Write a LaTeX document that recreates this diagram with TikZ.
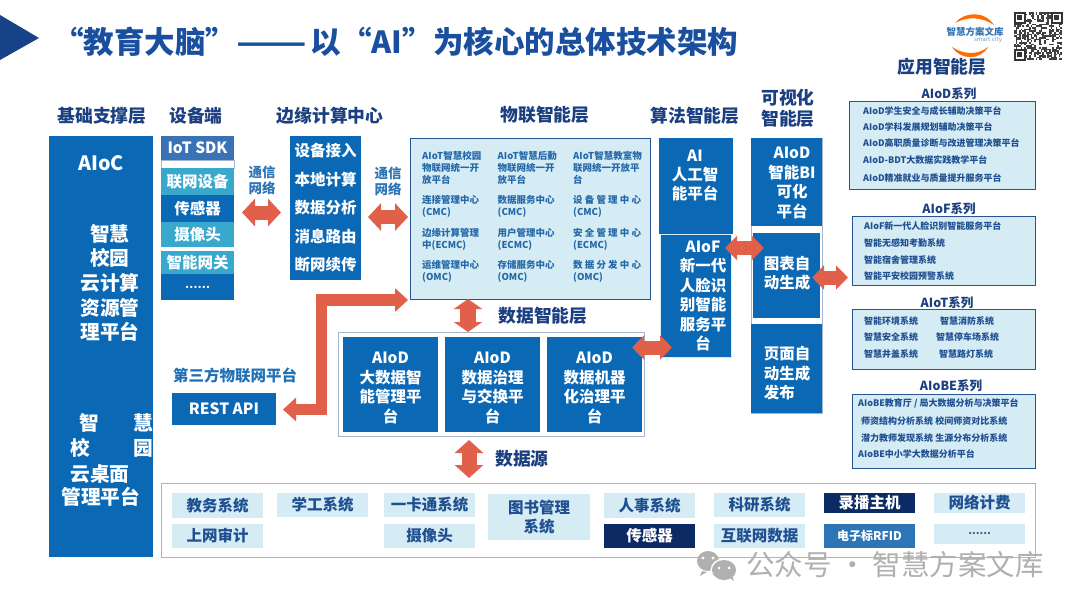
\documentclass[tikz,border=0pt]{standalone}
\usepackage{fontspec}
\setmainfont{Noto Sans CJK SC}
\usetikzlibrary{arrows.meta,calc}
\definecolor{bmain}{HTML}{0B68B5}
\definecolor{bhead}{HTML}{1B3F80}
\definecolor{btitle}{HTML}{1A4F9F}
\definecolor{blight}{HTML}{D6ECF5}
\definecolor{bteal}{HTML}{38A8CC}
\definecolor{bsdk}{HTML}{3A72B6}
\definecolor{bnavy}{HTML}{0C2A63}
\definecolor{bmid}{HTML}{2E75B6}
\definecolor{bedge}{HTML}{2A5490}
\definecolor{bgrayb}{HTML}{A5B5CC}
\definecolor{barrow}{HTML}{E0604A}
\definecolor{biot}{HTML}{2468A8}
\definecolor{bapp}{HTML}{1F4F90}
\definecolor{wmark}{HTML}{B0B0B0}
\tikzset{
  cell/.style={rectangle,inner sep=0pt,outer sep=0pt,align=center,anchor=north west},
  blue15/.style={cell,fill=bmain,text=white,font=\bfseries\fontsize{15.5}{19.4}\selectfont},
  device/.style={cell,text=white,minimum width=73,font=\bfseries\fontsize{15.5}{18}\selectfont},
  head/.style={inner sep=0pt,align=center,text=bhead,font=\bfseries\fontsize{17.8}{21}\selectfont},
  free15/.style={inner sep=0pt,align=center,text=white,font=\bfseries\fontsize{15.5}{19.4}\selectfont},
  free17/.style={inner sep=0pt,align=center,text=white,font=\bfseries\fontsize{19.7}{24.6}\selectfont},
  netlab/.style={inner sep=0pt,align=center,text=bmid,font=\bfseries\fontsize{13.5}{16}\selectfont},
  iottxt/.style={inner sep=0pt,anchor=north west,align=left,text=biot,font=\bfseries\fontsize{9.5}{12}\selectfont},
  frame/.style={cell,draw=bedge,line width=.9pt,fill=blight},
  apptitle/.style={inner sep=0pt,text=bhead,font=\bfseries\fontsize{12.5}{15}\selectfont},
  apptxt/.style={inner sep=0pt,anchor=west,text=bapp,font=\bfseries\fontsize{9}{12}\selectfont},
  src/.style={cell,minimum width=91,font=\bfseries\fontsize{15.5}{19}\selectfont},
  srclight/.style={src,fill=blight,text=bapp},
  srcnavy/.style={src,fill=bnavy,text=white},
  fat/.style n args={3}{draw=barrow,line width=#1pt,{Triangle[length=#2pt,width=#3pt]}-{Triangle[length=#2pt,width=#3pt]}},
}
\begin{document}
\begin{tikzpicture}[x=1pt,y=-1pt]
\useasboundingbox (0,0) rectangle (1080,608);
\fill[white] (0,0) rectangle (1080,608);
% title
\fill[btitle!85!black] (0,15) -- (39,38) -- (0,60) -- cycle;
\node[inner sep=0pt,anchor=west,text=btitle,font=\bfseries\fontsize{30.5}{36}\selectfont] (title) at (53,42) {“教育大脑”\scalebox{1.35}[1]{——}\hspace{4pt}以“AI”为核心的总体技术架构};
% logo
\fill[orange!85!red] (955,23) .. controls (964,12) and (984,10) .. (994,25) .. controls (982,17) and (968,16) .. cycle;
\fill[orange!85!red] (952,47) .. controls (960,60) and (980,61) .. (988,47) .. controls (978,55) and (964,55) .. cycle;
\node[inner sep=0pt,text=bmid,font=\bfseries\fontsize{9.5}{11}\selectfont] (logotext) at (975,32) {智慧方案文库};
\node[inner sep=0pt,text=bmid!70,font=\fontsize{6}{7}\selectfont] (logosub) at (988,40) {smart city};
% QR
\pgfmathsetseed{11}
\foreach \i in {0,...,28}{\foreach \j in {0,...,28}{
  \pgfmathparse{rnd<0.5?1:0}
  \ifnum\pgfmathresult=1 \fill[black!75] (1014+\i*1.66,12+\j*1.66) rectangle ++(1.66,1.66);\fi
}}
\foreach \qx/\qy in {1014/12,1051/12,1014/49}{
  \fill[white] (\qx-.5,\qy-.5) rectangle ++(12.5,12.5);
  \fill[black!80] (\qx,\qy) rectangle ++(11.5,11.5);
  \fill[white] (\qx+1.7,\qy+1.7) rectangle ++(8.1,8.1);
  \fill[black!80] (\qx+3.3,\qy+3.3) rectangle ++(4.9,4.9);
}
% headers
\node[head] (h1) at (102,116) {基础支撑层};
\node[head] (h2) at (196,116) {设备端};
\node[head] (h3) at (330,116) {边缘计算中心};
\node[head] (h4) at (545,115) {物联智能层};
\node[head] (h5) at (695,116) {算法智能层};
\node[head] (h6) at (788,108) {可视化\\智能层};
\node[head] (h7) at (942,67) {应用智能层};
% left panel
\node[cell,fill=bmain,minimum width=104,minimum height=421] (base) at (49,136) {};
\node[free17] (aioc) at (101,163) {AIoC};
\node[free17] (cloud) at (110,283) {智慧\\校园\\云计算\\资源管\\理平台};
\node[free17] (d1) at (89,423) {智};
\node[free17] (d2) at (143,423) {慧};
\node[free17] (d3) at (80,448) {校};
\node[free17] (d4) at (143,448) {园};
\node[free17] (d5) at (100,474) {云桌面};
\node[free17] (d6) at (100.7,497) {管理平台};
% devices
\node[device,fill=bsdk,minimum height=24] (sdk) at (161,136) {IoT SDK};
\node[cell,draw=bgrayb,line width=.5pt,fill=white,minimum width=72.5,minimum height=8] (gap1) at (161.3,160) {};
\node[device,fill=bteal,minimum height=27] (dv1) at (161,168) {联网设备};
\node[device,fill=bmain,minimum height=27] (dv2) at (161,195) {传感器};
\node[device,fill=bteal,minimum height=25] (dv3) at (161,222) {摄像头};
\node[device,fill=bteal,minimum height=23] (dv4) at (161,251) {智能网关};
\node[device,fill=bmain,minimum height=26,font=\bfseries\fontsize{11}{14}\selectfont] (dv5) at (161,274) {……};
% edge
\node[blue15,minimum width=71,minimum height=144,font=\bfseries\fontsize{15.5}{28.5}\selectfont] (edge) at (290,136) {设备接入\\本地计算\\数据分析\\消息路由\\断网续传};
\node[netlab] (n1) at (262,180) {通信\\网络};
\node[netlab] (n2) at (388,181) {通信\\网络};
% IoT frame
\node[frame,minimum width=240,minimum height=161] (iot) at (410,138) {};
\node[iottxt] (i11) at (422,151.5) {AIoT智慧校园\\物联网统一开\\放平台};
\node[iottxt] (i12) at (497.5,151.5) {AIoT智慧后勤\\物联网统一开\\放平台};
\node[iottxt] (i13) at (573,151.5) {AIoT智慧教室物\\联网统一开放平\\台};
\node[iottxt] (i21) at (422,195.5) {连接管理中心\\(CMC)};
\node[iottxt] (i22) at (497.5,195.5) {数据服务中心\\(CMC)};
\node[iottxt] (i23) at (573,195.5) {设 备 管 理 中 心\\(CMC)};
\node[iottxt] (i31) at (422,228) {边缘计算管理\\中(ECMC)};
\node[iottxt] (i32) at (497.5,228) {用户管理中心\\(ECMC)};
\node[iottxt] (i33) at (573,228) {安 全 管 理 中 心\\(ECMC)};
\node[iottxt] (i41) at (422,260.5) {运维管理中心\\(OMC)};
\node[iottxt] (i42) at (497.5,260.5) {存储服务中心\\(OMC)};
\node[iottxt] (i43) at (573,260.5) {数 据 分 发 中 心\\(OMC)};
% algorithm column
\node[cell,fill=bmain,minimum width=74,minimum height=96] (algo1) at (659,138) {};
\node[cell,fill=bmain,draw=blight,line width=.8pt,minimum width=71,minimum height=123] (algo2) at (660.5,234) {};
\node[free15] (al1) at (695,175.5) {AI\\人工智\\能平台};
\node[free15] (al2) at (703,296) {AIoF\\新一代\\人脸识\\别智能\\服务平\\台};
% visual column
\node[cell,fill=white,draw=bgrayb,line width=.5pt,minimum width=71,minimum height=275] (vback) at (751,138) {};
\node[cell,fill=bmain,minimum width=71,minimum height=88] (vis1) at (751,138) {};
\node[cell,fill=bmain,minimum width=67,minimum height=85] (vis2) at (753,233) {};
\node[cell,fill=bmain,minimum width=71,minimum height=89] (vis3) at (751,324) {};
\node[free15] (vt1) at (792,183) {AIoD\\智能BI\\可化\\平台};
\node[free15] (vt2) at (787,273.5) {图表自\\动生成};
\node[free15,align=left] (vt3) at (787,373.5) {页面自\\动生成\\发布};
% data layer
\node[cell,fill=white,draw=bgrayb,line width=.7pt,minimum width=306,minimum height=104] (data) at (338,332) {};
\node[blue15,minimum width=95,minimum height=95] (dt1) at (343,337) {};
\node[blue15,minimum width=95,minimum height=95] (dt2) at (445,337) {};
\node[blue15,minimum width=95,minimum height=95] (dt3) at (547,337) {};
\node[free15] (dx1) at (390.5,388) {AIoD\\大数据智\\能管理平\\台};
\node[free15] (dx2) at (492.5,388) {AIoD\\数据治理\\与交换平\\台};
\node[free15] (dx3) at (594.5,388) {AIoD\\数据机器\\化治理平\\台};
\node[head] (dl) at (543,316) {数据智能层};
\node[head] (ds) at (522,459) {数据源};
% third party
\node[inner sep=0pt,text=bmid!60!bmain,font=\bfseries\fontsize{15.5}{18}\selectfont] (third) at (235,376) {第三方物联网平台};
\node[cell,fill=bmain,text=white,minimum width=104,minimum height=32,font=\bfseries\fontsize{15.5}{18}\selectfont] (rest) at (172,393) {REST API};
% sources frame
\node[cell,fill=white,draw=bgrayb,line width=.7pt,minimum width=874,minimum height=74] (srcf) at (161,483) {};
\node[srclight,minimum height=25] (s1) at (172,493) {教务系统};
\node[srclight,minimum height=24] (s2) at (172,524) {上网审计};
\node[srclight,minimum height=24] (s3) at (277,493) {学工系统};
\node[srclight,minimum height=24] (s4) at (384,493) {一卡通系统};
\node[srclight,minimum height=24] (s5) at (384,524) {摄像头};
\node[srclight,minimum width=102,minimum height=46] (s6) at (488,494) {图书管理\\系统};
\node[srclight,minimum height=25] (s7) at (604,493) {人事系统};
\node[srcnavy,minimum height=24] (s8) at (604,524) {传感器};
\node[srclight,minimum height=24] (s9) at (714,493) {科研系统};
\node[srclight,minimum height=24] (s10) at (714,524) {互联网数据};
\node[srcnavy,minimum height=20] (s11) at (824,493) {录播主机};
\node[src,fill=bmid,text=white,minimum height=24,font=\bfseries\fontsize{12}{15}\selectfont] (s12) at (824,524) {电子标RFID};
\node[srclight,minimum height=20] (s13) at (934,493) {网络计费};
\node[srclight,minimum height=20,font=\bfseries\fontsize{10}{12}\selectfont] (s14) at (934,524) {……};
% application
\node[apptitle] (t1) at (949,94) {AIoD系列};
\node[frame,minimum width=186,minimum height=88] (f1) at (849,101) {};
\node[apptxt] (f11) at (863,111) {AIoD学生安全与成长辅助决策平台};
\node[apptxt] (f12) at (863,127.5) {AIoD学科发展规划辅助决策平台};
\node[apptxt] (f13) at (863,143.5) {AIoD高职质量诊断与改进管理决策平台};
\node[apptxt] (f14) at (863,160) {AIoD-BDT大数据实践教学平台};
\node[apptxt] (f15) at (863,178) {AIoD精准就业与质量提升服务平台};
\node[apptitle] (t2) at (949,209) {AIoF系列};
\node[frame,minimum width=183,minimum height=69] (f2) at (852,216) {};
\node[apptxt] (f21) at (864,226) {AIoF新一代人脸识别智能服务平台};
\node[apptxt] (f22) at (864,243) {智能无感知考勤系统};
\node[apptxt] (f23) at (864,260) {智能宿舍管理系统};
\node[apptxt] (f24) at (864,276.5) {智能平安校园预警系统};
\node[apptitle] (t3) at (947,303) {AIoT系列};
\node[frame,minimum width=183,minimum height=60] (f3) at (852,309) {};
\node[apptxt] (f31) at (864,321) {智能环境系统};
\node[apptxt] (f32) at (940,321) {智慧消防系统};
\node[apptxt] (f33) at (864,337) {智慧安全系统};
\node[apptxt] (f34) at (936,337) {智慧停车场系统};
\node[apptxt] (f35) at (864,354) {智慧井盖系统};
\node[apptxt] (f36) at (939,354) {智慧路灯系统};
\node[apptitle] (t4) at (951,386) {AIoBE系列};
\node[frame,minimum width=183,minimum height=74] (f4) at (852,394) {};
\node[apptxt] (f41) at (858,403) {AIoBE教育厅 / 局大数据分析与决策平台};
\node[apptxt] (f42) at (861,421) {师资结构分析系统 校间师资对比系统};
\node[apptxt] (f43) at (861,438) {潜力教师发现系统 生源分布分析系统};
\node[apptxt] (f44) at (858,454) {AIoBE中小学大数据分析平台};
% arrows
\coordinate (restout) at ($(rest.east)+(7,0.5)$);
\coordinate (iotin) at ($(iot.south west)+(-2,1)$);
\draw[barrow,line width=11.5pt,{Triangle[length=13pt,width=23pt]}-{Triangle[length=13pt,width=23pt]}] (restout) -- ++(38.5,0) |- (iotin);
\coordinate (a1a) at (242,212.5); \coordinate (a1b) at (281,212.5);
\coordinate (a2a) at (368,217);   \coordinate (a2b) at (408,217);
\coordinate (av1a) at (468,299);  \coordinate (av1b) at (468,332);
\coordinate (av2a) at (469,440);  \coordinate (av2b) at (469,478);
\coordinate (a3a) at (632,347.5); \coordinate (a3b) at (672,347.5);
\coordinate (a4a) at (725,248);   \coordinate (a4b) at (764,248);
\coordinate (a5a) at (812,277.5); \coordinate (a5b) at (848,277.5);
\draw[fat={14}{13}{27}] (a1a) -- (a1b);
\draw[fat={14}{13}{27}] (a2a) -- (a2b);
\draw[fat={16}{10}{28}] (av1a) -- (av1b);
\draw[fat={15}{13}{28}] (av2a) -- (av2b);
\draw[fat={14}{12}{23.5}] (a3a) -- (a3b);
\draw[fat={14}{12}{23.5}] (a4a) -- (a4b);
\draw[fat={14}{12}{23.5}] (a5a) -- (a5b);
% watermark
\fill[wmark] (708,561) ellipse (11 and 10);
\fill[wmark] (702,571) -- (700,576) -- (707,572) -- cycle;
\fill[white] (703,558) circle (1.6) (713,558) circle (1.6);
\fill[white] (724,570) ellipse (13.5 and 11.5);
\fill[wmark] (724,570) ellipse (12 and 10);
\fill[wmark] (730,578) -- (734,581) -- (732,575) -- cycle;
\fill[white] (719,568) circle (1.5) (729,568) circle (1.5);
\node[inner sep=0pt,anchor=west,text=wmark,font=\fontsize{28.5}{32}\selectfont] (wm) at (746,565) {公众号 · 智慧方案文库};
\end{tikzpicture}
\end{document}
